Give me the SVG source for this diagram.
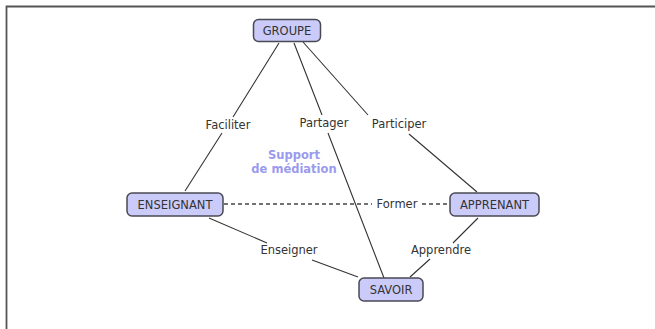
<svg xmlns="http://www.w3.org/2000/svg" width="655" height="329" viewBox="0 0 655 329">
<style>
.frame{fill:none;stroke:#555;stroke-width:1.8}
.node rect{fill:#cbcbf9;stroke:#4a4a55;stroke-width:1.5}
.node text{font-family:"DejaVu Sans",Verdana,sans-serif;font-size:11.5px;fill:#333;text-anchor:middle}
.edge{stroke:#333;stroke-width:1.1;fill:none}
.dash{stroke:#444;stroke-width:1.3;stroke-dasharray:4 3;fill:none}
.lbl{font-family:"DejaVu Sans",Verdana,sans-serif;font-size:11.5px;fill:#333;text-anchor:middle}
.sup{font-family:"DejaVu Sans",Verdana,sans-serif;font-size:11.5px;font-weight:bold;fill:#9a9aee;text-anchor:middle}
</style>
<rect width="655" height="329" fill="#fff"/>
<path class="frame" d="M6.5 329 V6.5 H655"/>
<g id="connectors">
  <path class="edge" d="M279 43 L233 117 M222 133 L185 191"/>
  <path class="edge" d="M294 43 L322 115 M328 133 L384 278"/>
  <path class="edge" d="M303 42 L368 115 M409 134 L477 192"/>
  <path class="dash" d="M224 204 H372 M422 204 H449"/>
  <path class="edge" d="M209 218 L267 243 M312 260 L358 277"/>
  <path class="edge" d="M478 218 L453 243 M430 259 L410 277"/>
  <text class="lbl" x="228" y="129">Faciliter</text>
  <text class="lbl" x="324" y="127">Partager</text>
  <text class="lbl" x="399" y="128">Participer</text>
  <text class="lbl" x="397" y="208">Former</text>
  <text class="lbl" x="289" y="254">Enseigner</text>
  <text class="lbl" x="441" y="254">Apprendre</text>
</g>
<g id="support">
  <text class="sup" x="294" y="159">Support</text>
  <text class="sup" x="294" y="173">de médiation</text>
</g>
<g id="groupe" class="node">
  <rect x="253.5" y="19.5" width="67" height="22" rx="5"/>
  <text x="287" y="34.5">GROUPE</text>
</g>
<g id="enseignant" class="node">
  <rect x="127" y="193" width="96" height="23" rx="5"/>
  <text x="175" y="208.5">ENSEIGNANT</text>
</g>
<g id="apprenant" class="node">
  <rect x="450" y="193" width="89" height="23" rx="5"/>
  <text x="494.5" y="208.5">APPRENANT</text>
</g>
<g id="savoir" class="node">
  <rect x="359" y="278" width="64" height="23" rx="5"/>
  <text x="391" y="293.5">SAVOIR</text>
</g>
</svg>
